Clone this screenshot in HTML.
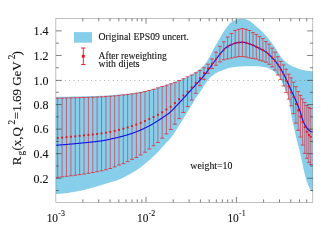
<!DOCTYPE html>
<html><head><meta charset="utf-8"><title>plot</title>
<style>
html,body{margin:0;padding:0;background:#fff;}
body{width:332px;height:240px;overflow:hidden;}
svg{display:block;will-change:transform;}
text{font-family:"Liberation Serif",serif;fill:#111;stroke:#111;stroke-width:0.1px;}
</style></head><body>
<svg width="332" height="240" viewBox="0 0 332 240">
<rect width="332" height="240" fill="#fff"/>
<clipPath id="c"><rect x="55.9" y="18.35" width="256.95000000000005" height="183.95000000000002"/></clipPath>
<g clip-path="url(#c)">
<path d="M55.90,96.89 L56.54,96.88 L57.19,96.87 L57.83,96.86 L58.48,96.85 L59.12,96.84 L59.76,96.83 L60.41,96.82 L61.05,96.81 L61.70,96.80 L62.34,96.79 L62.98,96.78 L63.63,96.76 L64.27,96.75 L64.92,96.74 L65.56,96.73 L66.20,96.71 L66.85,96.70 L67.49,96.69 L68.14,96.67 L68.78,96.66 L69.42,96.65 L70.07,96.63 L70.71,96.62 L71.36,96.60 L72.00,96.59 L72.64,96.58 L73.29,96.56 L73.93,96.55 L74.58,96.53 L75.22,96.52 L75.86,96.50 L76.51,96.49 L77.15,96.47 L77.80,96.45 L78.44,96.44 L79.08,96.42 L79.73,96.41 L80.37,96.39 L81.02,96.37 L81.66,96.36 L82.30,96.34 L82.95,96.33 L83.59,96.31 L84.24,96.29 L84.88,96.28 L85.52,96.26 L86.17,96.24 L86.81,96.23 L87.46,96.21 L88.10,96.19 L88.74,96.17 L89.39,96.16 L90.03,96.14 L90.68,96.12 L91.32,96.10 L91.96,96.08 L92.61,96.06 L93.25,96.04 L93.90,96.02 L94.54,96.00 L95.18,95.98 L95.83,95.96 L96.47,95.94 L97.12,95.92 L97.76,95.89 L98.40,95.87 L99.05,95.85 L99.69,95.82 L100.33,95.80 L100.98,95.77 L101.62,95.75 L102.27,95.72 L102.91,95.69 L103.55,95.66 L104.20,95.64 L104.84,95.61 L105.49,95.58 L106.13,95.54 L106.77,95.51 L107.42,95.47 L108.06,95.44 L108.71,95.40 L109.35,95.35 L109.99,95.31 L110.64,95.27 L111.28,95.22 L111.93,95.17 L112.57,95.13 L113.21,95.08 L113.86,95.02 L114.50,94.97 L115.15,94.92 L115.79,94.87 L116.43,94.81 L117.08,94.76 L117.72,94.70 L118.37,94.64 L119.01,94.59 L119.65,94.53 L120.30,94.47 L120.94,94.42 L121.59,94.36 L122.23,94.30 L122.87,94.23 L123.52,94.17 L124.16,94.11 L124.81,94.04 L125.45,93.98 L126.09,93.91 L126.74,93.84 L127.38,93.77 L128.03,93.70 L128.67,93.62 L129.31,93.55 L129.96,93.47 L130.60,93.39 L131.25,93.31 L131.89,93.23 L132.53,93.14 L133.18,93.06 L133.82,92.97 L134.47,92.88 L135.11,92.78 L135.75,92.69 L136.40,92.59 L137.04,92.49 L137.69,92.38 L138.33,92.27 L138.97,92.15 L139.62,92.04 L140.26,91.92 L140.91,91.79 L141.55,91.67 L142.19,91.54 L142.84,91.41 L143.48,91.27 L144.13,91.14 L144.77,91.00 L145.41,90.86 L146.06,90.72 L146.70,90.57 L147.35,90.42 L147.99,90.27 L148.63,90.12 L149.28,89.97 L149.92,89.82 L150.57,89.66 L151.21,89.50 L151.85,89.33 L152.50,89.15 L153.14,88.97 L153.79,88.79 L154.43,88.60 L155.07,88.41 L155.72,88.22 L156.36,88.02 L157.01,87.82 L157.65,87.62 L158.29,87.43 L158.94,87.23 L159.58,87.03 L160.23,86.83 L160.87,86.63 L161.51,86.43 L162.16,86.22 L162.80,86.01 L163.45,85.81 L164.09,85.60 L164.73,85.39 L165.38,85.18 L166.02,84.97 L166.67,84.77 L167.31,84.56 L167.95,84.36 L168.60,84.15 L169.24,83.94 L169.89,83.73 L170.53,83.51 L171.17,83.29 L171.82,83.07 L172.46,82.83 L173.11,82.59 L173.75,82.33 L174.39,82.07 L175.04,81.80 L175.68,81.54 L176.33,81.27 L176.97,81.01 L177.61,80.75 L178.26,80.50 L178.90,80.26 L179.55,80.04 L180.19,79.83 L180.83,79.62 L181.48,79.42 L182.12,79.22 L182.77,79.02 L183.41,78.80 L184.05,78.57 L184.70,78.32 L185.34,78.05 L185.98,77.76 L186.63,77.43 L187.27,77.09 L187.92,76.74 L188.56,76.37 L189.20,75.99 L189.85,75.60 L190.49,75.21 L191.14,74.82 L191.78,74.43 L192.42,74.03 L193.07,73.62 L193.71,73.21 L194.36,72.78 L195.00,72.35 L195.64,71.91 L196.29,71.46 L196.93,71.01 L197.58,70.54 L198.22,70.08 L198.86,69.62 L199.51,69.16 L200.15,68.69 L200.80,68.21 L201.44,67.70 L202.08,67.17 L202.73,66.59 L203.37,65.98 L204.02,65.32 L204.66,64.56 L205.30,63.73 L205.95,62.83 L206.59,61.88 L207.24,60.89 L207.88,59.87 L208.52,58.80 L209.17,57.64 L209.81,56.43 L210.46,55.17 L211.10,53.89 L211.74,52.60 L212.39,51.33 L213.03,50.08 L213.68,48.88 L214.32,47.73 L214.96,46.59 L215.61,45.46 L216.25,44.35 L216.90,43.24 L217.54,42.14 L218.18,41.05 L218.83,39.97 L219.47,38.89 L220.12,37.80 L220.76,36.71 L221.40,35.60 L222.05,34.49 L222.69,33.38 L223.34,32.30 L223.98,31.26 L224.62,30.26 L225.27,29.32 L225.91,28.44 L226.56,27.56 L227.20,26.69 L227.84,25.84 L228.49,25.03 L229.13,24.28 L229.78,23.58 L230.42,22.96 L231.06,22.43 L231.71,21.98 L232.35,21.55 L233.00,21.13 L233.64,20.74 L234.28,20.38 L234.93,20.05 L235.57,19.77 L236.22,19.52 L236.86,19.33 L237.50,19.20 L238.15,19.10 L238.79,19.00 L239.44,18.92 L240.08,18.85 L240.72,18.79 L241.37,18.76 L242.01,18.75 L242.66,18.78 L243.30,18.85 L243.94,18.95 L244.59,19.08 L245.23,19.22 L245.88,19.37 L246.52,19.54 L247.16,19.78 L247.81,20.06 L248.45,20.38 L249.10,20.73 L249.74,21.10 L250.38,21.49 L251.03,21.93 L251.67,22.43 L252.32,22.97 L252.96,23.53 L253.60,24.11 L254.25,24.70 L254.89,25.28 L255.54,25.84 L256.18,26.39 L256.82,26.93 L257.47,27.47 L258.11,28.01 L258.76,28.55 L259.40,29.11 L260.04,29.67 L260.69,30.25 L261.33,30.85 L261.98,31.47 L262.62,32.11 L263.26,32.77 L263.91,33.44 L264.55,34.14 L265.20,34.85 L265.84,35.57 L266.48,36.31 L267.13,37.06 L267.77,37.82 L268.42,38.61 L269.06,39.41 L269.70,40.23 L270.35,41.07 L270.99,41.92 L271.63,42.79 L272.28,43.66 L272.92,44.55 L273.57,45.44 L274.21,46.35 L274.85,47.28 L275.50,48.22 L276.14,49.18 L276.79,50.16 L277.43,51.14 L278.07,52.17 L278.72,53.27 L279.36,54.38 L280.01,55.46 L280.65,56.47 L281.29,57.36 L281.94,58.16 L282.58,58.93 L283.23,59.66 L283.87,60.34 L284.51,60.99 L285.16,61.59 L285.80,62.14 L286.45,62.65 L287.09,63.12 L287.73,63.57 L288.38,63.99 L289.02,64.39 L289.67,64.77 L290.31,65.13 L290.95,65.48 L291.60,65.81 L292.24,66.13 L292.89,66.43 L293.53,66.73 L294.17,67.02 L294.82,67.30 L295.46,67.56 L296.11,67.82 L296.75,68.06 L297.39,68.29 L298.04,68.52 L298.68,68.73 L299.33,68.93 L299.97,69.13 L300.61,69.33 L301.26,69.52 L301.90,69.71 L302.55,69.88 L303.19,70.04 L303.83,70.18 L304.48,70.31 L305.12,70.42 L305.77,70.52 L306.41,70.62 L307.05,70.72 L307.70,70.81 L308.34,70.90 L308.99,70.98 L309.63,71.06 L310.27,71.12 L310.92,71.18 L311.56,71.23 L312.21,71.27 L312.85,71.30 L312.85,191.93 L312.21,191.51 L311.56,190.91 L310.92,190.10 L310.27,189.11 L309.63,187.97 L308.99,186.72 L308.34,185.38 L307.70,183.83 L307.05,182.07 L306.41,180.14 L305.77,178.06 L305.12,175.76 L304.48,173.09 L303.83,170.18 L303.19,167.17 L302.55,164.21 L301.90,161.24 L301.26,158.19 L300.61,155.19 L299.97,152.38 L299.33,149.84 L298.68,147.45 L298.04,145.08 L297.39,142.58 L296.75,139.94 L296.11,137.22 L295.46,134.38 L294.82,131.32 L294.17,128.24 L293.53,125.47 L292.89,122.99 L292.24,120.21 L291.60,116.48 L290.95,112.20 L290.31,108.30 L289.67,104.56 L289.02,101.20 L288.38,98.53 L287.73,96.21 L287.09,94.14 L286.45,92.26 L285.80,90.52 L285.16,88.89 L284.51,87.31 L283.87,85.80 L283.23,84.36 L282.58,83.00 L281.94,81.72 L281.29,80.52 L280.65,79.42 L280.01,78.41 L279.36,77.47 L278.72,76.57 L278.07,75.72 L277.43,74.92 L276.79,74.17 L276.14,73.47 L275.50,72.84 L274.85,72.26 L274.21,71.76 L273.57,71.28 L272.92,70.81 L272.28,70.37 L271.63,69.94 L270.99,69.54 L270.35,69.17 L269.70,68.83 L269.06,68.52 L268.42,68.24 L267.77,68.00 L267.13,67.81 L266.48,67.65 L265.84,67.49 L265.20,67.35 L264.55,67.20 L263.91,67.07 L263.26,66.94 L262.62,66.82 L261.98,66.71 L261.33,66.61 L260.69,66.53 L260.04,66.45 L259.40,66.39 L258.76,66.34 L258.11,66.31 L257.47,66.30 L256.82,66.29 L256.18,66.29 L255.54,66.28 L254.89,66.28 L254.25,66.27 L253.60,66.27 L252.96,66.26 L252.32,66.26 L251.67,66.26 L251.03,66.26 L250.38,66.25 L249.74,66.25 L249.10,66.25 L248.45,66.25 L247.81,66.25 L247.16,66.25 L246.52,66.26 L245.88,66.28 L245.23,66.29 L244.59,66.31 L243.94,66.34 L243.30,66.36 L242.66,66.39 L242.01,66.42 L241.37,66.45 L240.72,66.49 L240.08,66.52 L239.44,66.56 L238.79,66.60 L238.15,66.64 L237.50,66.69 L236.86,66.75 L236.22,66.81 L235.57,66.89 L234.93,66.97 L234.28,67.05 L233.64,67.15 L233.00,67.24 L232.35,67.35 L231.71,67.46 L231.06,67.58 L230.42,67.70 L229.78,67.82 L229.13,67.96 L228.49,68.11 L227.84,68.29 L227.20,68.50 L226.56,68.72 L225.91,68.95 L225.27,69.20 L224.62,69.45 L223.98,69.71 L223.34,69.97 L222.69,70.22 L222.05,70.48 L221.40,70.73 L220.76,70.99 L220.12,71.25 L219.47,71.53 L218.83,71.81 L218.18,72.11 L217.54,72.42 L216.90,72.75 L216.25,73.10 L215.61,73.47 L214.96,73.87 L214.32,74.29 L213.68,74.74 L213.03,75.21 L212.39,75.71 L211.74,76.24 L211.10,76.79 L210.46,77.37 L209.81,77.98 L209.17,78.66 L208.52,79.40 L207.88,80.20 L207.24,81.05 L206.59,81.93 L205.95,82.84 L205.30,83.76 L204.66,84.70 L204.02,85.72 L203.37,86.80 L202.73,87.90 L202.08,88.98 L201.44,90.01 L200.80,90.96 L200.15,91.86 L199.51,92.73 L198.86,93.59 L198.22,94.47 L197.58,95.39 L196.93,96.36 L196.29,97.35 L195.64,98.37 L195.00,99.42 L194.36,100.47 L193.71,101.55 L193.07,102.63 L192.42,103.72 L191.78,104.82 L191.14,105.92 L190.49,107.01 L189.85,108.10 L189.20,109.18 L188.56,110.25 L187.92,111.30 L187.27,112.35 L186.63,113.40 L185.98,114.45 L185.34,115.50 L184.70,116.55 L184.05,117.60 L183.41,118.64 L182.77,119.68 L182.12,120.72 L181.48,121.74 L180.83,122.76 L180.19,123.78 L179.55,124.78 L178.90,125.77 L178.26,126.76 L177.61,127.75 L176.97,128.75 L176.33,129.76 L175.68,130.76 L175.04,131.76 L174.39,132.74 L173.75,133.71 L173.11,134.67 L172.46,135.60 L171.82,136.51 L171.17,137.38 L170.53,138.22 L169.89,139.02 L169.24,139.78 L168.60,140.48 L167.95,141.12 L167.31,141.74 L166.67,142.37 L166.02,143.04 L165.38,143.73 L164.73,144.44 L164.09,145.16 L163.45,145.88 L162.80,146.61 L162.16,147.35 L161.51,148.09 L160.87,148.82 L160.23,149.55 L159.58,150.27 L158.94,150.97 L158.29,151.66 L157.65,152.34 L157.01,152.99 L156.36,153.63 L155.72,154.26 L155.07,154.87 L154.43,155.48 L153.79,156.08 L153.14,156.67 L152.50,157.25 L151.85,157.83 L151.21,158.40 L150.57,158.97 L149.92,159.53 L149.28,160.08 L148.63,160.63 L147.99,161.18 L147.35,161.73 L146.70,162.28 L146.06,162.82 L145.41,163.37 L144.77,163.91 L144.13,164.45 L143.48,164.98 L142.84,165.51 L142.19,166.03 L141.55,166.54 L140.91,167.05 L140.26,167.54 L139.62,168.02 L138.97,168.49 L138.33,168.94 L137.69,169.38 L137.04,169.81 L136.40,170.23 L135.75,170.64 L135.11,171.04 L134.47,171.44 L133.82,171.82 L133.18,172.21 L132.53,172.58 L131.89,172.95 L131.25,173.32 L130.60,173.68 L129.96,174.04 L129.31,174.39 L128.67,174.74 L128.03,175.10 L127.38,175.45 L126.74,175.80 L126.09,176.15 L125.45,176.50 L124.81,176.84 L124.16,177.18 L123.52,177.51 L122.87,177.84 L122.23,178.15 L121.59,178.46 L120.94,178.75 L120.30,179.03 L119.65,179.30 L119.01,179.55 L118.37,179.79 L117.72,180.03 L117.08,180.25 L116.43,180.47 L115.79,180.68 L115.15,180.89 L114.50,181.09 L113.86,181.28 L113.21,181.48 L112.57,181.67 L111.93,181.86 L111.28,182.06 L110.64,182.25 L109.99,182.45 L109.35,182.65 L108.71,182.85 L108.06,183.04 L107.42,183.24 L106.77,183.44 L106.13,183.63 L105.49,183.82 L104.84,184.02 L104.20,184.21 L103.55,184.40 L102.91,184.59 L102.27,184.78 L101.62,184.97 L100.98,185.17 L100.33,185.36 L99.69,185.55 L99.05,185.75 L98.40,185.95 L97.76,186.15 L97.12,186.35 L96.47,186.55 L95.83,186.75 L95.18,186.95 L94.54,187.14 L93.90,187.33 L93.25,187.52 L92.61,187.71 L91.96,187.89 L91.32,188.07 L90.68,188.24 L90.03,188.41 L89.39,188.58 L88.74,188.74 L88.10,188.90 L87.46,189.06 L86.81,189.22 L86.17,189.37 L85.52,189.53 L84.88,189.68 L84.24,189.82 L83.59,189.97 L82.95,190.11 L82.30,190.26 L81.66,190.40 L81.02,190.53 L80.37,190.67 L79.73,190.81 L79.08,190.94 L78.44,191.08 L77.80,191.21 L77.15,191.34 L76.51,191.46 L75.86,191.59 L75.22,191.71 L74.58,191.83 L73.93,191.94 L73.29,192.05 L72.64,192.16 L72.00,192.27 L71.36,192.37 L70.71,192.48 L70.07,192.59 L69.42,192.69 L68.78,192.79 L68.14,192.89 L67.49,192.98 L66.85,193.07 L66.20,193.15 L65.56,193.23 L64.92,193.31 L64.27,193.37 L63.63,193.43 L62.98,193.49 L62.34,193.55 L61.70,193.61 L61.05,193.66 L60.41,193.71 L59.76,193.76 L59.12,193.81 L58.48,193.85 L57.83,193.89 L57.19,193.93 L56.54,193.96 L55.90,193.99Z" fill="#87ceeb"/>
<path d="M56.199999999999996,80.45H312.85" stroke="#666" stroke-width="0.6" stroke-dasharray="0.9 3.45" fill="none"/>
<path d="M57.73,98.20V177.37M62.12,98.10V176.87M66.50,97.99V176.34M70.89,97.87V175.79M75.27,97.74V175.23M79.65,97.61V174.64M84.03,97.47V173.99M88.41,97.33V173.29M92.78,97.18V172.52M97.16,97.01V171.70M101.53,96.82V170.80M105.89,96.59V169.78M110.26,96.27V168.51M114.62,95.86V166.87M118.97,95.41V165.05M123.33,94.95V163.63M127.67,94.47V161.61M132.01,93.93V159.29M136.35,93.28V157.58M140.68,92.47V154.95M145.00,91.53V152.20M149.31,90.48V148.99M153.61,89.27V145.75M157.90,87.89V142.47M162.18,86.52V138.17M166.44,85.27V133.86M170.70,83.82V129.53M174.93,82.37V124.19M179.15,80.56V118.61M183.35,78.68V112.47M187.53,76.76V106.58M191.68,74.98V100.05M195.81,72.84V93.25M199.91,70.65V85.74M203.99,67.76V79.42M208.03,64.18V73.20M212.03,59.04V68.62M216.00,52.11V65.25M219.92,46.27V61.95M223.81,41.83V59.80M227.64,37.01V58.91M231.43,33.56V58.09M235.17,30.41V57.23M238.85,29.30V56.64M242.47,28.50V56.56M246.03,29.34V57.03M249.53,30.50V57.88M252.96,32.63V58.43M256.33,34.59V59.03M259.62,36.53V60.21M262.85,38.58V61.12M266.01,41.58V62.27M269.09,44.13V64.27M272.10,48.15V66.81M275.03,52.12V70.03M277.90,56.74V74.96M280.68,61.37V79.46M283.40,64.95V85.94M286.04,69.23V92.62M288.61,74.17V99.09M291.12,77.89V105.84M293.55,82.13V113.67M295.92,86.73V123.16M298.21,91.62V130.27M300.45,95.35V136.99M302.62,98.96V145.02M304.74,102.48V153.36M306.79,105.48V158.28M308.79,107.35V162.32M310.73,108.52V164.51" stroke="#e02838" stroke-width="0.64" fill="none"/>
<path d="M55.83,98.20H59.63M55.83,177.37H59.63M60.22,98.10H64.02M60.22,176.87H64.02M64.60,97.99H68.40M64.60,176.34H68.40M68.99,97.87H72.79M68.99,175.79H72.79M73.37,97.74H77.17M73.37,175.23H77.17M77.75,97.61H81.55M77.75,174.64H81.55M82.13,97.47H85.93M82.13,173.99H85.93M86.51,97.33H90.31M86.51,173.29H90.31M90.88,97.18H94.68M90.88,172.52H94.68M95.26,97.01H99.06M95.26,171.70H99.06M99.63,96.82H103.43M99.63,170.80H103.43M103.99,96.59H107.79M103.99,169.78H107.79M108.36,96.27H112.16M108.36,168.51H112.16M112.72,95.86H116.52M112.72,166.87H116.52M117.07,95.41H120.87M117.07,165.05H120.87M121.43,94.95H125.23M121.43,163.63H125.23M125.77,94.47H129.57M125.77,161.61H129.57M130.11,93.93H133.91M130.11,159.29H133.91M134.45,93.28H138.25M134.45,157.58H138.25M138.78,92.47H142.58M138.78,154.95H142.58M143.10,91.53H146.90M143.10,152.20H146.90M147.41,90.48H151.21M147.41,148.99H151.21M151.71,89.27H155.51M151.71,145.75H155.51M156.00,87.89H159.80M156.00,142.47H159.80M160.28,86.52H164.08M160.28,138.17H164.08M164.54,85.27H168.34M164.54,133.86H168.34M168.80,83.82H172.60M168.80,129.53H172.60M173.03,82.37H176.83M173.03,124.19H176.83M177.25,80.56H181.05M177.25,118.61H181.05M181.45,78.68H185.25M181.45,112.47H185.25M185.63,76.76H189.43M185.63,106.58H189.43M189.78,74.98H193.58M189.78,100.05H193.58M193.91,72.84H197.71M193.91,93.25H197.71M198.01,70.65H201.81M198.01,85.74H201.81M202.09,67.76H205.89M202.09,79.42H205.89M206.13,64.18H209.93M206.13,73.20H209.93M210.13,59.04H213.93M210.13,68.62H213.93M214.10,52.11H217.90M214.10,65.25H217.90M218.02,46.27H221.82M218.02,61.95H221.82M221.91,41.83H225.71M221.91,59.80H225.71M225.74,37.01H229.54M225.74,58.91H229.54M229.53,33.56H233.33M229.53,58.09H233.33M233.27,30.41H237.07M233.27,57.23H237.07M236.95,29.30H240.75M236.95,56.64H240.75M240.57,28.50H244.37M240.57,56.56H244.37M244.13,29.34H247.93M244.13,57.03H247.93M247.63,30.50H251.43M247.63,57.88H251.43M251.06,32.63H254.86M251.06,58.43H254.86M254.43,34.59H258.23M254.43,59.03H258.23M257.72,36.53H261.52M257.72,60.21H261.52M260.95,38.58H264.75M260.95,61.12H264.75M264.11,41.58H267.91M264.11,62.27H267.91M267.19,44.13H270.99M267.19,64.27H270.99M270.20,48.15H274.00M270.20,66.81H274.00M273.13,52.12H276.93M273.13,70.03H276.93M276.00,56.74H279.80M276.00,74.96H279.80M278.78,61.37H282.58M278.78,79.46H282.58M281.50,64.95H285.30M281.50,85.94H285.30M284.14,69.23H287.94M284.14,92.62H287.94M286.71,74.17H290.51M286.71,99.09H290.51M289.22,77.89H293.02M289.22,105.84H293.02M291.65,82.13H295.45M291.65,113.67H295.45M294.02,86.73H297.82M294.02,123.16H297.82M296.31,91.62H300.11M296.31,130.27H300.11M298.55,95.35H302.35M298.55,136.99H302.35M300.72,98.96H304.52M300.72,145.02H304.52M302.84,102.48H306.64M302.84,153.36H306.64M304.89,105.48H308.69M304.89,158.28H308.69M306.89,107.35H310.69M306.89,162.32H310.69M308.83,108.52H312.63M308.83,164.51H312.63" stroke="#e8242c" stroke-width="0.8" fill="none"/>
<path d="M55.90,145.27 L56.54,145.23 L57.19,145.18 L57.83,145.13 L58.48,145.08 L59.12,145.03 L59.76,144.99 L60.41,144.94 L61.05,144.89 L61.70,144.84 L62.34,144.78 L62.98,144.73 L63.63,144.68 L64.27,144.63 L64.92,144.57 L65.56,144.52 L66.20,144.47 L66.85,144.41 L67.49,144.36 L68.14,144.30 L68.78,144.25 L69.42,144.19 L70.07,144.13 L70.71,144.07 L71.36,144.02 L72.00,143.96 L72.64,143.90 L73.29,143.84 L73.93,143.78 L74.58,143.72 L75.22,143.66 L75.86,143.60 L76.51,143.54 L77.15,143.48 L77.80,143.42 L78.44,143.35 L79.08,143.29 L79.73,143.23 L80.37,143.16 L81.02,143.10 L81.66,143.04 L82.30,142.98 L82.95,142.91 L83.59,142.85 L84.24,142.79 L84.88,142.73 L85.52,142.66 L86.17,142.60 L86.81,142.54 L87.46,142.47 L88.10,142.41 L88.74,142.34 L89.39,142.28 L90.03,142.21 L90.68,142.15 L91.32,142.08 L91.96,142.01 L92.61,141.94 L93.25,141.87 L93.90,141.80 L94.54,141.72 L95.18,141.65 L95.83,141.57 L96.47,141.50 L97.12,141.42 L97.76,141.34 L98.40,141.26 L99.05,141.17 L99.69,141.09 L100.33,141.00 L100.98,140.91 L101.62,140.82 L102.27,140.72 L102.91,140.63 L103.55,140.53 L104.20,140.43 L104.84,140.33 L105.49,140.22 L106.13,140.09 L106.77,139.95 L107.42,139.81 L108.06,139.66 L108.71,139.50 L109.35,139.35 L109.99,139.20 L110.64,139.06 L111.28,138.91 L111.93,138.77 L112.57,138.63 L113.21,138.48 L113.86,138.34 L114.50,138.20 L115.15,138.06 L115.79,137.91 L116.43,137.76 L117.08,137.62 L117.72,137.47 L118.37,137.31 L119.01,137.16 L119.65,137.00 L120.30,136.84 L120.94,136.68 L121.59,136.51 L122.23,136.34 L122.87,136.16 L123.52,135.99 L124.16,135.81 L124.81,135.62 L125.45,135.44 L126.09,135.25 L126.74,135.06 L127.38,134.86 L128.03,134.66 L128.67,134.46 L129.31,134.26 L129.96,134.05 L130.60,133.84 L131.25,133.62 L131.89,133.41 L132.53,133.18 L133.18,132.96 L133.82,132.73 L134.47,132.50 L135.11,132.26 L135.75,132.02 L136.40,131.77 L137.04,131.52 L137.69,131.26 L138.33,131.00 L138.97,130.73 L139.62,130.45 L140.26,130.18 L140.91,129.89 L141.55,129.61 L142.19,129.31 L142.84,129.02 L143.48,128.72 L144.13,128.41 L144.77,128.10 L145.41,127.79 L146.06,127.47 L146.70,127.15 L147.35,126.83 L147.99,126.51 L148.63,126.17 L149.28,125.83 L149.92,125.49 L150.57,125.13 L151.21,124.77 L151.85,124.41 L152.50,124.03 L153.14,123.65 L153.79,123.27 L154.43,122.88 L155.07,122.49 L155.72,122.10 L156.36,121.70 L157.01,121.30 L157.65,120.89 L158.29,120.49 L158.94,120.08 L159.58,119.67 L160.23,119.26 L160.87,118.84 L161.51,118.41 L162.16,117.97 L162.80,117.53 L163.45,117.09 L164.09,116.64 L164.73,116.19 L165.38,115.74 L166.02,115.29 L166.67,114.84 L167.31,114.39 L167.95,113.93 L168.60,113.44 L169.24,112.93 L169.89,112.39 L170.53,111.82 L171.17,111.23 L171.82,110.62 L172.46,109.99 L173.11,109.35 L173.75,108.69 L174.39,108.02 L175.04,107.34 L175.68,106.66 L176.33,105.97 L176.97,105.28 L177.61,104.60 L178.26,103.92 L178.90,103.24 L179.55,102.56 L180.19,101.88 L180.83,101.19 L181.48,100.50 L182.12,99.80 L182.77,99.10 L183.41,98.40 L184.05,97.69 L184.70,96.98 L185.34,96.27 L185.98,95.57 L186.63,94.86 L187.27,94.15 L187.92,93.44 L188.56,92.72 L189.20,92.00 L189.85,91.28 L190.49,90.57 L191.14,89.85 L191.78,89.13 L192.42,88.43 L193.07,87.72 L193.71,87.02 L194.36,86.32 L195.00,85.62 L195.64,84.92 L196.29,84.23 L196.93,83.53 L197.58,82.82 L198.22,82.12 L198.86,81.41 L199.51,80.70 L200.15,79.97 L200.80,79.25 L201.44,78.51 L202.08,77.77 L202.73,77.01 L203.37,76.25 L204.02,75.47 L204.66,74.68 L205.30,73.87 L205.95,73.04 L206.59,72.20 L207.24,71.35 L207.88,70.48 L208.52,69.60 L209.17,68.72 L209.81,67.83 L210.46,66.93 L211.10,66.04 L211.74,65.14 L212.39,64.24 L213.03,63.35 L213.68,62.47 L214.32,61.59 L214.96,60.72 L215.61,59.86 L216.25,58.99 L216.90,58.13 L217.54,57.26 L218.18,56.40 L218.83,55.56 L219.47,54.75 L220.12,53.96 L220.76,53.17 L221.40,52.37 L222.05,51.58 L222.69,50.81 L223.34,50.07 L223.98,49.37 L224.62,48.73 L225.27,48.16 L225.91,47.67 L226.56,47.22 L227.20,46.80 L227.84,46.40 L228.49,46.03 L229.13,45.69 L229.78,45.37 L230.42,45.06 L231.06,44.78 L231.71,44.51 L232.35,44.24 L233.00,43.97 L233.64,43.72 L234.28,43.48 L234.93,43.27 L235.57,43.08 L236.22,42.93 L236.86,42.81 L237.50,42.71 L238.15,42.62 L238.79,42.53 L239.44,42.45 L240.08,42.38 L240.72,42.32 L241.37,42.28 L242.01,42.26 L242.66,42.25 L243.30,42.29 L243.94,42.37 L244.59,42.48 L245.23,42.62 L245.88,42.78 L246.52,42.96 L247.16,43.14 L247.81,43.32 L248.45,43.50 L249.10,43.70 L249.74,43.92 L250.38,44.17 L251.03,44.42 L251.67,44.69 L252.32,44.97 L252.96,45.25 L253.60,45.54 L254.25,45.82 L254.89,46.12 L255.54,46.43 L256.18,46.75 L256.82,47.08 L257.47,47.41 L258.11,47.74 L258.76,48.07 L259.40,48.40 L260.04,48.72 L260.69,49.03 L261.33,49.33 L261.98,49.64 L262.62,49.96 L263.26,50.29 L263.91,50.64 L264.55,51.02 L265.20,51.43 L265.84,51.88 L266.48,52.37 L267.13,52.89 L267.77,53.44 L268.42,54.02 L269.06,54.62 L269.70,55.23 L270.35,55.86 L270.99,56.49 L271.63,57.14 L272.28,57.80 L272.92,58.48 L273.57,59.18 L274.21,59.91 L274.85,60.66 L275.50,61.43 L276.14,62.23 L276.79,63.05 L277.43,63.91 L278.07,64.79 L278.72,65.72 L279.36,66.69 L280.01,67.70 L280.65,68.74 L281.29,69.81 L281.94,70.92 L282.58,72.06 L283.23,73.23 L283.87,74.43 L284.51,75.70 L285.16,77.04 L285.80,78.44 L286.45,79.87 L287.09,81.30 L287.73,82.71 L288.38,84.14 L289.02,85.58 L289.67,87.03 L290.31,88.47 L290.95,89.90 L291.60,91.30 L292.24,92.68 L292.89,94.04 L293.53,95.40 L294.17,96.79 L294.82,98.21 L295.46,99.68 L296.11,101.20 L296.75,102.75 L297.39,104.34 L298.04,105.97 L298.68,107.64 L299.33,109.37 L299.97,111.17 L300.61,113.14 L301.26,115.31 L301.90,117.50 L302.55,119.53 L303.19,121.21 L303.83,122.64 L304.48,123.93 L305.12,125.11 L305.77,126.17 L306.41,127.13 L307.05,128.05 L307.70,128.92 L308.34,129.69 L308.99,130.31 L309.63,130.74 L310.27,131.10 L310.92,131.44 L311.56,131.71 L312.21,131.91 L312.85,132.00" stroke="#1414e6" stroke-width="1.15" fill="none" stroke-linejoin="round"/>
<g fill="#f01018"><rect x="56.78" y="137.03" width="1.9" height="1.9"/><rect x="61.17" y="136.63" width="1.9" height="1.9"/><rect x="65.55" y="136.22" width="1.9" height="1.9"/><rect x="69.94" y="135.79" width="1.9" height="1.9"/><rect x="74.32" y="135.35" width="1.9" height="1.9"/><rect x="78.70" y="134.89" width="1.9" height="1.9"/><rect x="83.08" y="134.43" width="1.9" height="1.9"/><rect x="87.46" y="133.97" width="1.9" height="1.9"/><rect x="91.83" y="133.50" width="1.9" height="1.9"/><rect x="96.21" y="132.99" width="1.9" height="1.9"/><rect x="100.58" y="132.42" width="1.9" height="1.9"/><rect x="104.94" y="131.77" width="1.9" height="1.9"/><rect x="109.31" y="130.96" width="1.9" height="1.9"/><rect x="113.67" y="129.99" width="1.9" height="1.9"/><rect x="118.02" y="128.91" width="1.9" height="1.9"/><rect x="122.38" y="127.76" width="1.9" height="1.9"/><rect x="126.72" y="126.48" width="1.9" height="1.9"/><rect x="131.06" y="125.08" width="1.9" height="1.9"/><rect x="135.40" y="123.57" width="1.9" height="1.9"/><rect x="139.73" y="121.91" width="1.9" height="1.9"/><rect x="144.05" y="120.11" width="1.9" height="1.9"/><rect x="148.36" y="118.17" width="1.9" height="1.9"/><rect x="152.66" y="116.09" width="1.9" height="1.9"/><rect x="156.95" y="113.82" width="1.9" height="1.9"/><rect x="161.23" y="111.34" width="1.9" height="1.9"/><rect x="165.49" y="108.49" width="1.9" height="1.9"/><rect x="169.75" y="105.80" width="1.9" height="1.9"/><rect x="173.98" y="102.11" width="1.9" height="1.9"/><rect x="178.20" y="98.28" width="1.9" height="1.9"/><rect x="182.40" y="94.60" width="1.9" height="1.9"/><rect x="186.58" y="90.68" width="1.9" height="1.9"/><rect x="190.73" y="86.36" width="1.9" height="1.9"/><rect x="194.86" y="82.15" width="1.9" height="1.9"/><rect x="198.96" y="77.26" width="1.9" height="1.9"/><rect x="203.04" y="72.17" width="1.9" height="1.9"/><rect x="207.08" y="67.63" width="1.9" height="1.9"/><rect x="211.08" y="62.90" width="1.9" height="1.9"/><rect x="215.05" y="58.24" width="1.9" height="1.9"/><rect x="218.97" y="53.24" width="1.9" height="1.9"/><rect x="222.86" y="48.61" width="1.9" height="1.9"/><rect x="226.69" y="45.57" width="1.9" height="1.9"/><rect x="230.48" y="43.67" width="1.9" height="1.9"/><rect x="234.22" y="42.25" width="1.9" height="1.9"/><rect x="237.90" y="41.57" width="1.9" height="1.9"/><rect x="241.52" y="41.30" width="1.9" height="1.9"/><rect x="245.08" y="41.87" width="1.9" height="1.9"/><rect x="248.58" y="42.90" width="1.9" height="1.9"/><rect x="252.01" y="44.30" width="1.9" height="1.9"/><rect x="255.38" y="45.88" width="1.9" height="1.9"/><rect x="258.67" y="47.56" width="1.9" height="1.9"/><rect x="261.90" y="49.13" width="1.9" height="1.9"/><rect x="265.06" y="51.05" width="1.9" height="1.9"/><rect x="268.14" y="53.69" width="1.9" height="1.9"/><rect x="271.15" y="56.65" width="1.9" height="1.9"/><rect x="274.08" y="59.84" width="1.9" height="1.9"/><rect x="276.95" y="63.65" width="1.9" height="1.9"/><rect x="279.73" y="68.69" width="1.9" height="1.9"/><rect x="282.45" y="73.25" width="1.9" height="1.9"/><rect x="285.09" y="79.55" width="1.9" height="1.9"/><rect x="287.66" y="85.31" width="1.9" height="1.9"/><rect x="290.17" y="91.36" width="1.9" height="1.9"/><rect x="292.60" y="96.07" width="1.9" height="1.9"/><rect x="294.97" y="103.03" width="1.9" height="1.9"/><rect x="297.26" y="109.37" width="1.9" height="1.9"/><rect x="299.50" y="115.80" width="1.9" height="1.9"/><rect x="301.67" y="120.96" width="1.9" height="1.9"/><rect x="303.79" y="126.12" width="1.9" height="1.9"/><rect x="305.84" y="130.75" width="1.9" height="1.9"/><rect x="307.84" y="133.99" width="1.9" height="1.9"/><rect x="309.78" y="135.85" width="1.9" height="1.9"/></g>
</g>
<rect x="55.9" y="18.35" width="256.95000000000005" height="183.95000000000002" fill="none" stroke="#666" stroke-width="0.42"/>
<path d="M82.84,202.3v-2.9M82.84,18.35v2.9M98.75,202.3v-2.9M98.75,18.35v2.9M110.04,202.3v-2.9M110.04,18.35v2.9M118.80,202.3v-2.9M118.80,18.35v2.9M125.96,202.3v-2.9M125.96,18.35v2.9M132.01,202.3v-2.9M132.01,18.35v2.9M137.25,202.3v-2.9M137.25,18.35v2.9M141.87,202.3v-2.9M141.87,18.35v2.9M146.01,202.3v-5.4M146.01,18.35v5.4M173.22,202.3v-2.9M173.22,18.35v2.9M189.13,202.3v-2.9M189.13,18.35v2.9M200.42,202.3v-2.9M200.42,18.35v2.9M209.18,202.3v-2.9M209.18,18.35v2.9M216.34,202.3v-2.9M216.34,18.35v2.9M222.39,202.3v-2.9M222.39,18.35v2.9M227.63,202.3v-2.9M227.63,18.35v2.9M232.25,202.3v-2.9M232.25,18.35v2.9M236.39,202.3v-5.4M236.39,18.35v5.4M263.60,202.3v-2.9M263.60,18.35v2.9M279.51,202.3v-2.9M279.51,18.35v2.9M290.80,202.3v-2.9M290.80,18.35v2.9M299.56,202.3v-2.9M299.56,18.35v2.9M306.72,202.3v-2.9M306.72,18.35v2.9M55.9,190.52h2.9M312.85,190.52h-2.9M55.9,178.24h5.7M312.85,178.24h-5.7M55.9,165.96h2.9M312.85,165.96h-2.9M55.9,153.68h5.7M312.85,153.68h-5.7M55.9,141.40h2.9M312.85,141.40h-2.9M55.9,129.12h5.7M312.85,129.12h-5.7M55.9,116.84h2.9M312.85,116.84h-2.9M55.9,104.56h5.7M312.85,104.56h-5.7M55.9,92.28h2.9M312.85,92.28h-2.9M55.9,80.40h5.7M312.85,80.40h-5.7M55.9,67.72h2.9M312.85,67.72h-2.9M55.9,55.44h5.7M312.85,55.44h-5.7M55.9,43.16h2.9M312.85,43.16h-2.9M55.9,30.88h5.7M312.85,30.88h-5.7" stroke="#3a3a3a" stroke-width="0.65" fill="none"/>
<g font-size="12" opacity="0.999"><text x="48.6" y="182.54" text-anchor="end">0.2</text><text x="48.6" y="157.98" text-anchor="end">0.4</text><text x="48.6" y="133.42" text-anchor="end">0.6</text><text x="48.6" y="108.86" text-anchor="end">0.8</text><text x="48.6" y="84.70" text-anchor="end">1.0</text><text x="48.6" y="59.74" text-anchor="end">1.2</text><text x="48.6" y="35.18" text-anchor="end">1.4</text></g>
<g font-size="12" opacity="0.999"><text x="46.63" y="222.1" textLength="11.4" lengthAdjust="spacingAndGlyphs">10</text><text x="58.33" y="216.1" font-size="8.8" textLength="6.6" lengthAdjust="spacingAndGlyphs">-3</text><text x="137.01" y="222.1" textLength="11.4" lengthAdjust="spacingAndGlyphs">10</text><text x="148.71" y="216.1" font-size="8.8" textLength="6.6" lengthAdjust="spacingAndGlyphs">-2</text><text x="227.39" y="222.1" textLength="11.4" lengthAdjust="spacingAndGlyphs">10</text><text x="239.09" y="216.1" font-size="8.8" textLength="6.6" lengthAdjust="spacingAndGlyphs">-1</text></g>
<rect x="74" y="32.1" width="18" height="10.6" fill="#87ceeb"/>
<path d="M83.3,48V64.5M81.2,48h4.2M81.2,64.5h4.2" stroke="#f01820" stroke-width="0.95" fill="none"/>
<rect x="81.9" y="54.9" width="2.8" height="2.8" fill="#f01018"/>
<g font-size="9.3" opacity="0.999">
<text x="98.6" y="40.2" textLength="90.4" lengthAdjust="spacingAndGlyphs">Original EPS09 uncert.</text>
<text x="98.6" y="58.5" textLength="68.1" lengthAdjust="spacingAndGlyphs">After reweighting</text>
<text x="98.6" y="66.8" textLength="41" lengthAdjust="spacingAndGlyphs">with dijets</text>
<text x="190.3" y="168.5" textLength="42.1" lengthAdjust="spacingAndGlyphs">weight=10</text>
</g>
<g transform="translate(20.5,165.2) rotate(-90)" font-size="13" opacity="0.999">
<text x="0" y="0">R</text><text x="9.6" y="3.0" font-size="9.3">g</text><text x="14.6" y="0">(x,Q</text><text x="40.6" y="-5.9" font-size="9.3">2</text><text x="46.0" y="0">=1.69 GeV</text><text x="106.0" y="-5.9" font-size="9.3">2</text><text x="109.8" y="0">)</text>
</g>
</svg>
</body></html>
